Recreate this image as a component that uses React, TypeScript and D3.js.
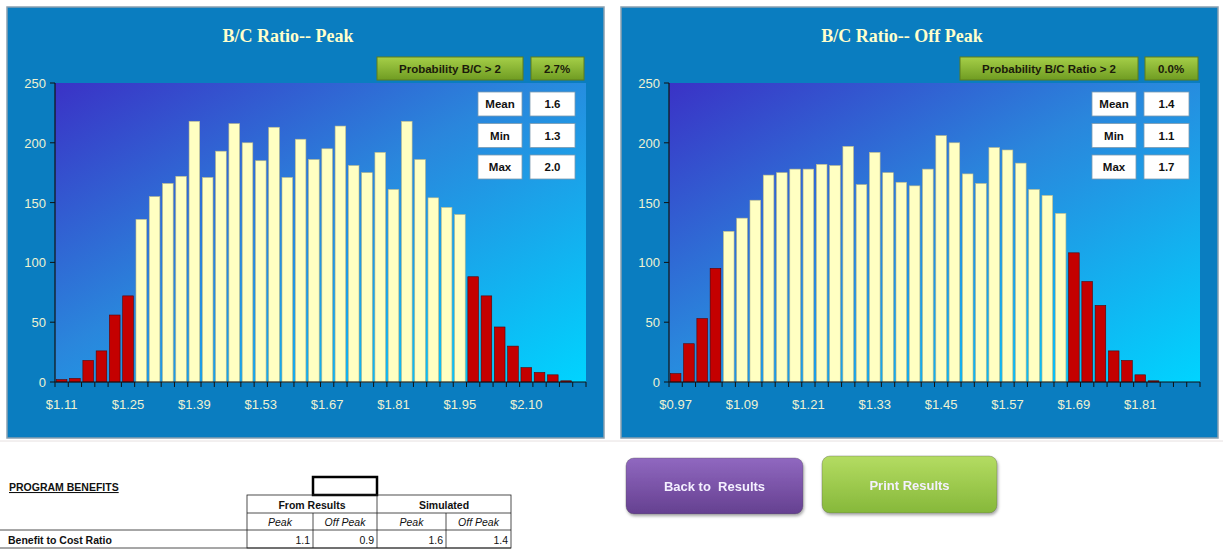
import React from "react";
import * as d3 from "d3";

// histogram counts per bin (40 bins each)
const peakCounts = [2, 3, 18, 26, 56, 72, 136, 155, 166, 172, 218, 171, 193, 216, 200, 185, 213, 171, 203, 186, 195, 214, 181, 175, 192, 161, 218, 186, 154, 146, 140, 88, 72, 46, 30, 12, 8, 6, 1, 0];
const offPeakCounts = [7, 32, 53, 95, 126, 137, 152, 173, 175, 178, 178, 182, 181, 197, 165, 192, 175, 167, 164, 178, 206, 200, 174, 166, 196, 194, 183, 161, 156, 141, 108, 84, 64, 26, 18, 6, 1, 0, 0, 0];

// first / last bin inside the central (yellow) range
const peakRange = [6, 30];
const offPeakRange = [4, 29];

const peakTicks = ["$1.11", "$1.25", "$1.39", "$1.53", "$1.67", "$1.81", "$1.95", "$2.10"];
const offPeakTicks = ["$0.97", "$1.09", "$1.21", "$1.33", "$1.45", "$1.57", "$1.69", "$1.81"];

const yTicks = [0, 50, 100, 150, 200, 250];

const statNames = ["Mean", "Min", "Max"];
const peakStats = ["1.6", "1.3", "2.0"];
const offPeakStats = ["1.4", "1.1", "1.7"];

const tableHeads = ["From Results", "Simulated"];
const tableSubs = ["Peak", "Off Peak", "Peak", "Off Peak"];
const tableValues = ["1.1", "0.9", "1.6", "1.4"];

const labelColor = "#eef2d2";
const sans = "Liberation Sans, Arial, sans-serif";

type HistProps = {
  x0: number;
  id: string;
  title: string;
  counts: number[];
  range: number[];
  ticks: string[];
  probLabel: string;
  probValue: string;
  probX: number;
  probW: number;
  stats: string[];
};

const Histogram = ({ x0, id, title, counts, range, ticks, probLabel, probValue, probX, probW, stats }: HistProps) => {
  const panelW = 597;
  const left = x0 + 48;
  const right = left + 531;
  const top = 83;
  const bottom = 382;

  const x = d3
    .scaleBand<number>()
    .domain(d3.range(counts.length))
    .range([left, right])
    .paddingInner(0.2)
    .paddingOuter(0.1);
  const y = d3.scaleLinear().domain([0, 250]).range([bottom, top]);
  // category boundaries for the tick marks
  const edge = d3.scaleLinear().domain([0, counts.length]).range([left, right]);

  return (
    <g>
      <defs>
        <linearGradient id={`plot-${id}`} x1="0" y1="0" x2="1" y2="1">
          <stop offset="0" stopColor="#3a32c6" />
          <stop offset="0.45" stopColor="#2a86dc" />
          <stop offset="1" stopColor="#00d4ff" />
        </linearGradient>
      </defs>
      <rect x={x0} y={7} width={panelW} height={431} fill="#0a7dc0" stroke="#8aa0b0" strokeWidth={1.5} />
      <text
        x={x0 + 281}
        y={42}
        textAnchor="middle"
        fontFamily="Liberation Serif, serif"
        fontWeight="bold"
        fontSize={18}
        fill="#ffffcc"
      >
        {title}
      </text>
      <rect x={left} y={top} width={right - left} height={bottom - top} fill={`url(#plot-${id})`} />

      {counts.map((c, i) => {
        const inside = i >= range[0] && i <= range[1];
        if (c <= 0) return null;
        return (
          <rect
            key={i}
            x={x(i)}
            y={y(c)}
            width={x.bandwidth()}
            height={bottom - y(c)}
            fill={inside ? "#ffffc2" : "#c40000"}
            stroke={inside ? "#b9b98c" : "#5a0000"}
            strokeWidth={0.6}
          />
        );
      })}

      {/* y axis */}
      <line x1={left} x2={left} y1={top} y2={bottom} stroke="#111" strokeWidth={1.2} />
      {yTicks.map((t) => (
        <g key={t}>
          <line x1={left - 5} x2={left} y1={y(t)} y2={y(t)} stroke="#111" />
          <text x={left - 9} y={y(t) + 5} textAnchor="end" fontFamily={sans} fontSize={13} fill={labelColor}>
            {t}
          </text>
        </g>
      ))}

      {/* x axis */}
      <line x1={left} x2={right} y1={bottom} y2={bottom} stroke="#111" strokeWidth={1.2} />
      {d3.range(counts.length + 1).map((i) => (
        <line key={i} x1={edge(i)} x2={edge(i)} y1={bottom} y2={bottom + 5} stroke="#111" />
      ))}
      {ticks.map((t, k) => (
        <text
          key={t}
          x={(x(k * 5) as number) + x.bandwidth() / 2}
          y={409}
          textAnchor="middle"
          fontFamily={sans}
          fontSize={13}
          fill={labelColor}
        >
          {t}
        </text>
      ))}

      {/* probability boxes */}
      <rect x={probX} y={57} width={probW} height={23} fill="url(#greenBox)" stroke="#5d7d1c" strokeWidth={1} />
      <text x={probX + probW / 2} y={73} textAnchor="middle" fontFamily={sans} fontWeight="bold" fontSize={11.5} fill="#1b1b0a">
        {probLabel}
      </text>
      <rect x={x0 + 524} y={57} width={53} height={23} fill="url(#greenBox)" stroke="#5d7d1c" strokeWidth={1} />
      <text x={x0 + 550} y={73} textAnchor="middle" fontFamily={sans} fontWeight="bold" fontSize={11.5} fill="#1b1b0a">
        {probValue}
      </text>

      {statNames.map((s, k) => (
        <g key={s}>
          <rect x={x0 + 471} y={92 + k * 31.5} width={44} height={24} fill="#fff" stroke="#7a9ab0" strokeWidth={0.8} />
          <text x={x0 + 493} y={108 + k * 31.5} textAnchor="middle" fontFamily={sans} fontWeight="bold" fontSize={11.5} fill="#111">
            {s}
          </text>
          <rect x={x0 + 523} y={92 + k * 31.5} width={45} height={24} fill="#fff" stroke="#7a9ab0" strokeWidth={0.8} />
          <text x={x0 + 545.5} y={108 + k * 31.5} textAnchor="middle" fontFamily={sans} fontWeight="bold" fontSize={11.5} fill="#111">
            {stats[k]}
          </text>
        </g>
      ))}
    </g>
  );
};

const BenefitsTable = () => {
  const cols = [247, 313, 377, 446, 511];
  const rows = [495, 513, 530, 548];
  return (
    <g fontFamily={sans} fontSize={10.5} fill="#111">
      <text x={9} y={491} fontWeight="bold" textDecoration="underline">
        PROGRAM BENEFITS
      </text>
      <rect x={313} y={477} width={64} height={18} fill="none" stroke="#000" strokeWidth={2.5} />
      <rect x={cols[0]} y={rows[0]} width={cols[4] - cols[0]} height={rows[3] - rows[0]} fill="none" stroke="#222" strokeWidth={0.8} />
      <line x1={cols[0]} x2={cols[4]} y1={rows[1]} y2={rows[1]} stroke="#222" strokeWidth={0.8} />
      <line x1={0} x2={cols[4]} y1={rows[2]} y2={rows[2]} stroke="#222" strokeWidth={0.8} />
      <line x1={0} x2={cols[4]} y1={rows[3]} y2={rows[3]} stroke="#222" strokeWidth={0.8} />
      <line x1={cols[2]} x2={cols[2]} y1={rows[0]} y2={rows[3]} stroke="#222" strokeWidth={0.8} />
      <line x1={cols[1]} x2={cols[1]} y1={rows[1]} y2={rows[3]} stroke="#222" strokeWidth={0.8} />
      <line x1={cols[3]} x2={cols[3]} y1={rows[1]} y2={rows[3]} stroke="#222" strokeWidth={0.8} />
      {tableHeads.map((h, k) => (
        <text key={h} x={(cols[k * 2] + cols[k * 2 + 2]) / 2} y={509} textAnchor="middle" fontWeight="bold">
          {h}
        </text>
      ))}
      {tableSubs.map((s, k) => (
        <text key={k} x={(cols[k] + cols[k + 1]) / 2} y={526} textAnchor="middle" fontStyle="italic">
          {s}
        </text>
      ))}
      <text x={8} y={544} fontWeight="bold">
        Benefit to Cost Ratio
      </text>
      {tableValues.map((v, k) => (
        <text key={k} x={cols[k + 1] - 3} y={544} textAnchor="end">
          {v}
        </text>
      ))}
    </g>
  );
};

const Button = ({ x, y, w, h, label, grad }: { x: number; y: number; w: number; h: number; label: string; grad: string }) => (
  <g filter="url(#btnShadow)">
    <rect x={x} y={y} width={w} height={h} rx={8} fill={`url(#${grad})`} stroke="#555" strokeOpacity={0.35} />
    <text
      x={x + w / 2}
      y={y + h / 2 + 5}
      textAnchor="middle"
      fontFamily={sans}
      fontWeight="bold"
      fontSize={13}
      fill="#f4f0ff"
      style={{ whiteSpace: "pre" }}
    >
      {label}
    </text>
  </g>
);

export default function App() {
  return (
    <svg width={1223} height={550} style={{ position: "absolute", left: 0, top: 0, background: "#fff" }}>
      <defs>
        <linearGradient id="greenBox" x1="0" y1="0" x2="0" y2="1">
          <stop offset="0" stopColor="#a6cf48" />
          <stop offset="1" stopColor="#6f9c22" />
        </linearGradient>
        <linearGradient id="purpleBtn" x1="0" y1="0" x2="0" y2="1">
          <stop offset="0" stopColor="#9068c0" />
          <stop offset="1" stopColor="#654090" />
        </linearGradient>
        <linearGradient id="greenBtn" x1="0" y1="0" x2="0" y2="1">
          <stop offset="0" stopColor="#b4dc62" />
          <stop offset="1" stopColor="#86b83a" />
        </linearGradient>
        <filter id="btnShadow" x="-10%" y="-10%" width="120%" height="140%">
          <feDropShadow dx="1" dy="2" stdDeviation="1.5" floodColor="#000" floodOpacity="0.35" />
        </filter>
      </defs>
      <Histogram
        x0={7}
        id="peak"
        title="B/C Ratio-- Peak"
        counts={peakCounts}
        range={peakRange}
        ticks={peakTicks}
        probLabel="Probability B/C > 2"
        probValue="2.7%"
        probX={377}
        probW={146}
        stats={peakStats}
      />
      <Histogram
        x0={621}
        id="offpeak"
        title="B/C Ratio-- Off Peak"
        counts={offPeakCounts}
        range={offPeakRange}
        ticks={offPeakTicks}
        probLabel="Probability B/C Ratio > 2"
        probValue="0.0%"
        probX={960}
        probW={178}
        stats={offPeakStats}
      />
      <line x1={0} x2={1223} y1={441} y2={441} stroke="#e6e0e0" />
      <BenefitsTable />
      <Button x={626} y={458} w={177} h={56} label="Back to  Results" grad="purpleBtn" />
      <Button x={822} y={456} w={175} h={57} label="Print Results" grad="greenBtn" />
    </svg>
  );
}
